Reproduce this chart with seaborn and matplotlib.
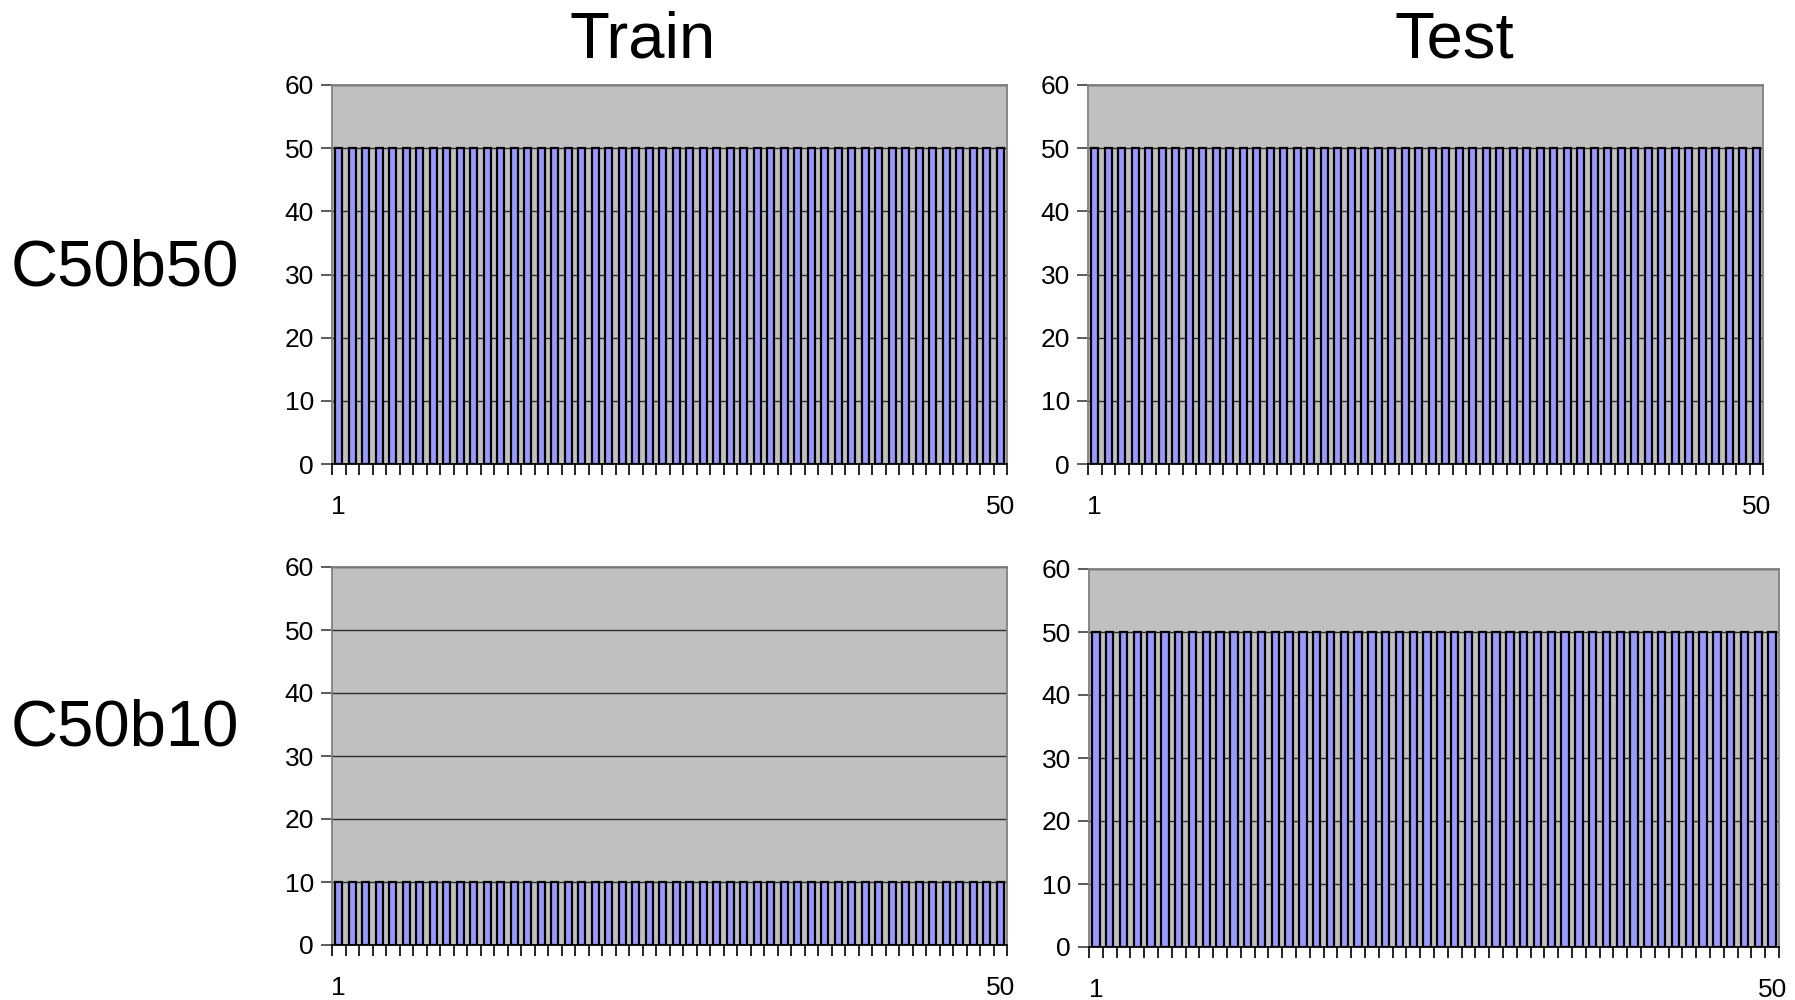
import numpy as np
import pandas as pd
import matplotlib
matplotlib.use("Agg")
import matplotlib.pyplot as plt
import seaborn as sns

sns.set_theme(style="white")
plt.rcParams["font.family"] = ["Liberation Sans", "DejaVu Sans"]
plt.rcParams["text.color"] = "black"
plt.rcParams["xtick.color"] = "black"
plt.rcParams["ytick.color"] = "black"

# Runs 1..50 for each configuration
runs = list(range(1, 51))
train_c50b50 = [50, 50, 50, 50, 50, 50, 50, 50, 50, 50,
                50, 50, 50, 50, 50, 50, 50, 50, 50, 50,
                50, 50, 50, 50, 50, 50, 50, 50, 50, 50,
                50, 50, 50, 50, 50, 50, 50, 50, 50, 50,
                50, 50, 50, 50, 50, 50, 50, 50, 50, 50]
test_c50b50 = [50, 50, 50, 50, 50, 50, 50, 50, 50, 50,
               50, 50, 50, 50, 50, 50, 50, 50, 50, 50,
               50, 50, 50, 50, 50, 50, 50, 50, 50, 50,
               50, 50, 50, 50, 50, 50, 50, 50, 50, 50,
               50, 50, 50, 50, 50, 50, 50, 50, 50, 50]
train_c50b10 = [10, 10, 10, 10, 10, 10, 10, 10, 10, 10,
                10, 10, 10, 10, 10, 10, 10, 10, 10, 10,
                10, 10, 10, 10, 10, 10, 10, 10, 10, 10,
                10, 10, 10, 10, 10, 10, 10, 10, 10, 10,
                10, 10, 10, 10, 10, 10, 10, 10, 10, 10]
test_c50b10 = [50, 50, 50, 50, 50, 50, 50, 50, 50, 50,
               50, 50, 50, 50, 50, 50, 50, 50, 50, 50,
               50, 50, 50, 50, 50, 50, 50, 50, 50, 50,
               50, 50, 50, 50, 50, 50, 50, 50, 50, 50,
               50, 50, 50, 50, 50, 50, 50, 50, 50, 50]

col_titles = ["Train", "Test"]
row_titles = ["C50b50", "C50b10"]
y_ticks = [0, 10, 20, 30, 40, 50, 60]

W, H = 1795, 1000
fig = plt.figure(figsize=(W / 100, H / 100), dpi=100)
fig.patch.set_facecolor("white")


def px_axes(left, top, right, bottom):
    return fig.add_axes([left / W, 1 - bottom / H, (right - left) / W, (bottom - top) / H])


panels = [
    (train_c50b50, (332, 85, 1007, 464)),
    (test_c50b50, (1088, 85, 1763, 464)),
    (train_c50b10, (332, 567, 1007, 945)),
    (test_c50b10, (1089, 569, 1779, 947)),
]

for values, box in panels:
    ax = px_axes(*box)
    df = pd.DataFrame({"run": runs, "value": values})
    sns.barplot(data=df, x="run", y="value", ax=ax, color="#9999FF",
                saturation=1, width=0.55, edgecolor="black", linewidth=1.6,
                zorder=3)
    ax.set_facecolor("#C0C0C0")
    ax.set_xlim(-0.5, len(runs) - 0.5)
    ax.set_ylim(0, 60)
    ax.set_yticks(y_ticks)
    ax.set_yticklabels([str(v) for v in y_ticks])
    ax.yaxis.grid(True, color="#2a2a2a", linewidth=1.0, zorder=1)
    ax.set_axisbelow(True)
    ax.set_xlabel("")
    ax.set_ylabel("")

    # labels only under first and last run; tick marks at category boundaries
    ax.set_xticks([0, len(runs) - 1])
    ax.set_xticklabels([str(runs[0]), str(runs[-1])])
    ax.set_xticks(np.arange(-0.5, len(runs)), minor=True)
    ax.tick_params(axis="x", which="major", length=0, pad=22, labelsize=19,
                   labelcolor="black")
    ax.tick_params(axis="x", which="minor", length=8, width=1.2,
                   direction="out", color="black", bottom=True)
    ax.tick_params(axis="y", which="major", length=8, width=1.2,
                   direction="out", color="#404040", left=True, pad=5,
                   labelsize=19, labelcolor="black")

    for side in ["top", "right", "left"]:
        ax.spines[side].set_visible(True)
        ax.spines[side].set_color("#808080")
        ax.spines[side].set_linewidth(1.3)
    ax.spines["bottom"].set_color("black")
    ax.spines["bottom"].set_linewidth(1.3)
    ax.spines["bottom"].set_zorder(5)

# column and row headings
fig.text(643 / W, 1 - 58 / H, col_titles[0], ha="center", va="baseline", fontsize=47)
fig.text(1454 / W, 1 - 58 / H, col_titles[1], ha="center", va="baseline", fontsize=47)
fig.text(11 / W, 1 - 286 / H, row_titles[0], ha="left", va="baseline", fontsize=47)
fig.text(11 / W, 1 - 746 / H, row_titles[1], ha="left", va="baseline", fontsize=47)

fig.savefig("out.png", dpi=100, facecolor="white")
